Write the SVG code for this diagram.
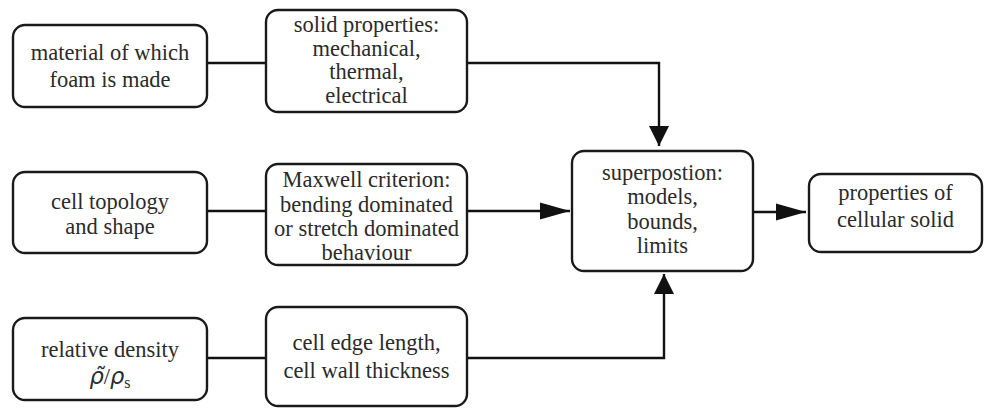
<svg xmlns="http://www.w3.org/2000/svg" width="984" height="408" viewBox="0 0 984 408">
<defs>
<style>
.box{fill:#fff;stroke:#1a1a1a;stroke-width:2.4}
.t{font-family:'Times New Roman',Times,Tinos,'Nimbus Roman','Nimbus Roman No9 L',FreeSerif,'Noto Serif','Liberation Serif','DejaVu Serif',serif;font-size:22.5px;fill:#2b2b2b;text-anchor:middle}
.c{fill:none;stroke:#111;stroke-width:2.4}
.g{font-family:'DejaVu Sans',sans-serif;font-style:italic}
</style>
<marker id="ah" markerUnits="userSpaceOnUse" markerWidth="30" markerHeight="18" viewBox="0 0 28 16" refX="28" refY="8" orient="auto">
<path d="M0,0 L28,8 L0,16 Z" fill="#111"/>
</marker>
<marker id="av" markerUnits="userSpaceOnUse" markerWidth="20" markerHeight="20" viewBox="0 0 18 18" refX="18" refY="9" orient="auto">
<path d="M0,0 L18,9 L0,18 Z" fill="#111"/>
</marker>
</defs>
<rect width="984" height="408" fill="#fff"/>
<g id="connectors">
<path class="c" d="M207,63 H266"/>
<path class="c" d="M467,63 H659 V146" marker-end="url(#av)"/>
<path class="c" d="M207,211 H266"/>
<path class="c" d="M467,211 H570" marker-end="url(#ah)"/>
<path class="c" d="M207,358 H266"/>
<path class="c" d="M467,358 H664 V274" marker-end="url(#av)"/>
<path class="c" d="M753,212 H806" marker-end="url(#ah)"/>
</g>
<g id="material">
<rect class="box" x="13" y="25" width="194" height="82" rx="12"/>
<text class="t" x="110" y="60">material of which</text>
<text class="t" x="110" y="87">foam is made</text>
</g>
<g id="solid">
<rect class="box" x="266" y="10" width="201" height="102" rx="12"/>
<text class="t" x="366.5" y="32">solid properties:</text>
<text class="t" x="366.5" y="56">mechanical,</text>
<text class="t" x="366.5" y="79">thermal,</text>
<text class="t" x="366.5" y="103">electrical</text>
</g>
<g id="topology">
<rect class="box" x="13" y="172" width="194" height="81" rx="12"/>
<text class="t" x="110" y="209">cell topology</text>
<text class="t" x="110" y="234">and shape</text>
</g>
<g id="maxwell">
<rect class="box" x="266" y="164" width="201" height="101" rx="12"/>
<text class="t" x="366.5" y="187">Maxwell criterion:</text>
<text class="t" x="366.5" y="212">bending dominated</text>
<text class="t" x="366.5" y="236">or stretch dominated</text>
<text class="t" x="366.5" y="260">behaviour</text>
</g>
<g id="density">
<rect class="box" x="13" y="318" width="194" height="82" rx="12"/>
<text class="t" x="110" y="357">relative density</text>
<text class="t" x="110" y="384"><tspan class="g">ρ̃</tspan>/<tspan class="g">ρ</tspan><tspan font-size="16" dy="4">s</tspan></text>
</g>
<g id="edge">
<rect class="box" x="266" y="307" width="201" height="99" rx="12"/>
<text class="t" x="366.5" y="350">cell edge length,</text>
<text class="t" x="366.5" y="378">cell wall thickness</text>
</g>
<g id="superposition">
<rect class="box" x="572" y="151" width="181" height="120" rx="12"/>
<text class="t" x="662.5" y="180">superpostion:</text>
<text class="t" x="662.5" y="204">models,</text>
<text class="t" x="662.5" y="229">bounds,</text>
<text class="t" x="662.5" y="253">limits</text>
</g>
<g id="properties">
<rect class="box" x="809" y="174" width="173" height="78" rx="12"/>
<text class="t" x="895.5" y="200">properties of</text>
<text class="t" x="895.5" y="227">cellular solid</text>
</g>
</svg>
